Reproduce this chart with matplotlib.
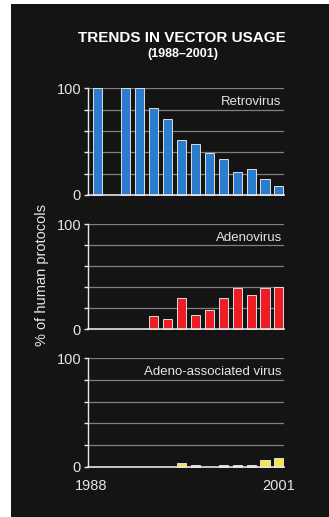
import matplotlib
matplotlib.use("Agg")
import matplotlib.pyplot as plt
from matplotlib.patches import Rectangle

plt.rcParams['font.family'] = ['Liberation Sans', 'DejaVu Sans']

years = list(range(1988, 2002))
retrovirus = [100, 0, 100, 100, 82, 71, 52, 48, 39, 34, 22, 24, 15, 8]
adenovirus = [0, 0, 0, 0, 13, 10, 30, 14, 18, 30, 39, 33, 39, 40]
aav = [0, 0, 0, 0, 0, 0, 3, 2, 0, 2, 2, 2, 6, 8]

series = [
    ("Retrovirus", retrovirus, "#2b7ccc"),
    ("Adenovirus", adenovirus, "#ee1c24"),
    ("Adeno-associated virus", aav, "#f5e642"),
]
title = "TRENDS IN VECTOR USAGE"
subtitle = "(1988\u20132001)"
ylabel = "% of human protocols"
x_labels = ["1988", "2001"]

W, H = 329, 517
fig = plt.figure(figsize=(W / 100, H / 100), dpi=100, facecolor="white")
bg = "#151414"
fig.patches.append(Rectangle((11 / W, 0), 1 - 11 / W, (H - 4) / H,
                             transform=fig.transFigure, facecolor=bg,
                             edgecolor="none", zorder=-10))

# panel positions in pixels (top, bottom)
panels = [(88.3, 195.0), (224.0, 329.3), (358.3, 466.7)]
left_px, right_px = 88.0, 283.7

fg = "#e6e6e6"
grid_c = "#808080"

axes = []
for (name, vals, col), (top, bot) in zip(series, panels):
    ax = fig.add_axes([left_px / W, (H - bot) / H, (right_px - left_px) / W, (bot - top) / H])
    ax.set_zorder(5)
    ax.set_facecolor("none")
    ax.set_xlim(1987.3, 2001.34)
    ax.set_ylim(0, 100)
    for g in [20, 40, 60, 80, 100]:
        ax.axhline(g, color=grid_c, lw=0.9, zorder=1)
    vy = [y for y, v in zip(years, vals) if v > 0]
    vv = [v for v in vals if v > 0]
    ax.bar(vy, vv, width=0.65, color=col, edgecolor="#dddddd", linewidth=0.7,
           zorder=3, clip_on=False)
    for s in ["top", "right", "bottom"]:
        ax.spines[s].set_visible(False)
    ax.spines["left"].set_color(fg)
    ax.spines["left"].set_linewidth(1.0)
    ax.axhline(0, color=fg, lw=1.2, zorder=4, clip_on=False)
    ax.set_yticks([0, 20, 40, 60, 80, 100])
    ax.set_yticklabels(["0", "", "", "", "", "100"])
    ax.tick_params(axis="y", colors=fg, length=3, width=1.0, labelsize=10.5, pad=2)
    ax.tick_params(axis="x", bottom=False, labelbottom=False)
    ax.text(0.99, 0.87, name, transform=ax.transAxes, ha="right", va="center",
            color=fg, fontsize=9.5)
    axes.append(ax)

ax3 = axes[-1]
ax3.set_xticks([1987.55, 2001])
ax3.set_xticklabels(x_labels)
ax3.tick_params(axis="x", bottom=False, labelbottom=True, colors=fg, labelsize=10.5, pad=5)

fig.text(182 / W, 1 - 38 / H, title, ha="center", va="center", color="white",
         fontsize=11, fontweight="bold")
fig.text(183 / W, 1 - 54 / H, subtitle, ha="center", va="center", color="white",
         fontsize=9, fontweight="bold")
fig.text(42 / W, 1 - 275 / H, ylabel, ha="center", va="center", rotation=90,
         color=fg, fontsize=10.5)

fig.savefig("out.png", dpi=100, facecolor="white")
